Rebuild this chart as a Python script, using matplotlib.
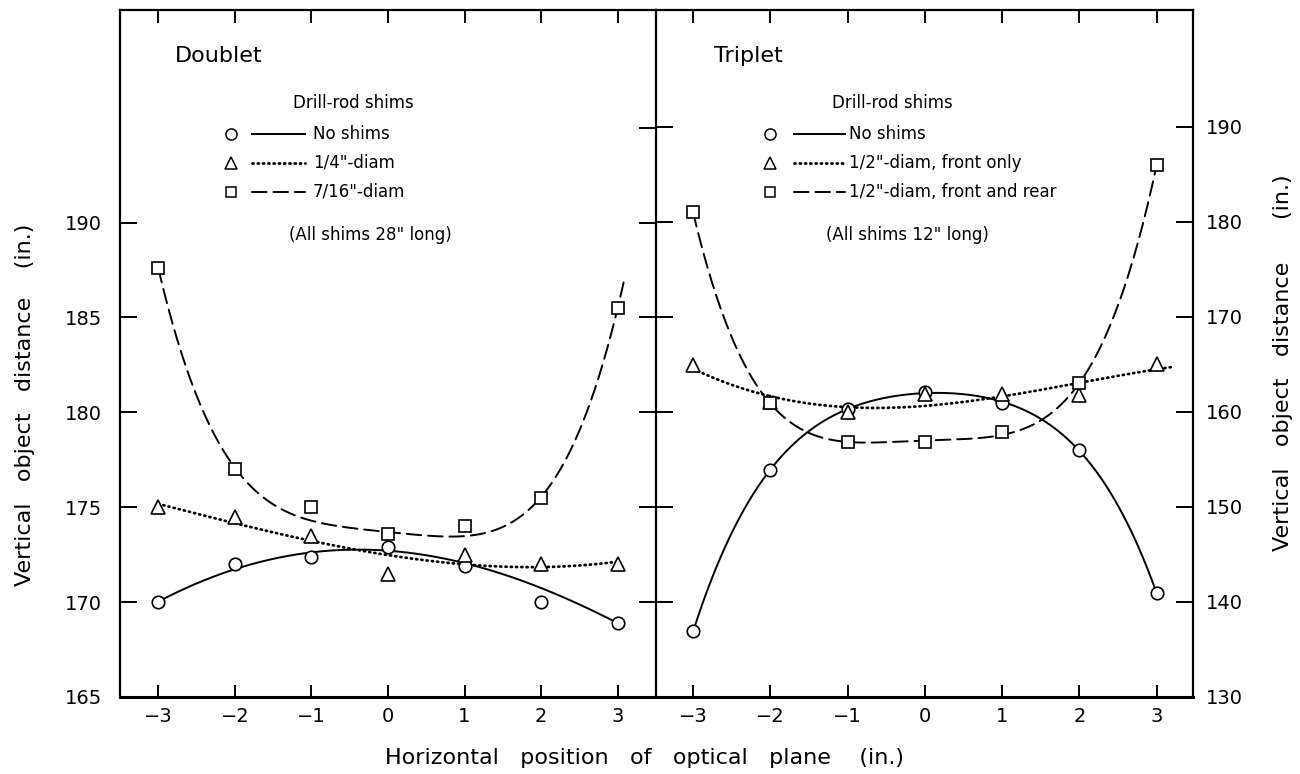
import numpy as np
import matplotlib
matplotlib.use("Agg")
import matplotlib.pyplot as plt
from matplotlib.lines import Line2D

plt.rcParams['font.family'] = ['DejaVu Sans']

x_pos = [-3, -2, -1, 0, 1, 2, 3]

# Doublet: vertical object distance (in.)
doublet_none = [170.0, 172.0, 172.4, 172.9, 171.9, 170.0, 168.9]
doublet_quarter = [175.0, 174.5, 173.5, 171.5, 172.5, 172.0, 172.0]
doublet_7_16 = [187.6, 177.0, 175.0, 173.6, 174.0, 175.5, 185.5]

# Triplet: vertical object distance (in.)
triplet_none = [136.9, 153.9, 160.3, 162.1, 160.9, 156.0, 140.9]
triplet_front = [164.9, 161.0, 160.0, 161.9, 161.9, 161.8, 165.0]
triplet_both = [181.0, 160.9, 156.8, 156.8, 157.9, 163.0, 186.0]

doublet_labels = ['No shims', '1/4"-diam', '7/16"-diam']
triplet_labels = ['No shims', '1/2"-diam, front only', '1/2"-diam, front and rear']

markers = ['o', '^', 's']
styles = ['-', (0, (0.4, 1.5)), (0, (7.5, 3.5))]
widths = [1.4, 2.0, 1.4]


def smooth(ax, xs, ys, deg, x0, x1, ls, lw, w=None):
    # least-squares polynomial through the measured points
    coef = np.polyfit(xs, ys, deg, w=w)
    xx = np.linspace(x0, x1, 300)
    ax.plot(xx, np.polyval(coef, xx), color='black', ls=ls, lw=lw,
            dash_capstyle='round', solid_capstyle='round', zorder=2)


def points(ax, xs, ys, marker):
    ms = 9 if marker == 'o' else 9.5 if marker == '^' else 8
    ax.plot(xs, ys, ls='none', marker=marker, ms=ms, mfc='white',
            mec='black', mew=1.2, zorder=3)


def key(ax, y, marker, ls, lw, label, x_mark, x_line, x_text):
    tr = ax.transAxes
    ms = 8 if marker == 'o' else 8.5 if marker == '^' else 7
    ax.add_line(Line2D([x_mark], [y], transform=tr, marker=marker, ms=ms,
                       mfc='white', mec='black', mew=1.1, ls='none'))
    ax.add_line(Line2D(x_line, [y, y], transform=tr, color='black', ls=ls,
                       lw=lw, dash_capstyle='round'))
    ax.text(x_text, y, label, transform=tr, fontsize=12, va='center', ha='left')


def style_axes(ax):
    ax.set_facecolor('none')
    for s in ax.spines.values():
        s.set_linewidth(1.6)
    ax.spines['bottom'].set_linewidth(2.2)
    ax.set_xticks(x_pos)
    ax.set_xticklabels([str(v) if v >= 0 else '\u2212' + str(-v) for v in x_pos])
    ax.tick_params(axis='x', which='major', direction='in', top=True,
                   length=9, width=1.4, labelsize=14, pad=7)


fig = plt.figure(figsize=(13, 7.74), dpi=100)
ax1 = fig.add_axes([0.0923, 0.0995, 0.4123, 0.8876])
ax2 = fig.add_axes([0.5046, 0.0995, 0.4131, 0.8876])

# Left panel: doublet
ax1.set_xlim(-3.5, 3.5)
ax1.set_ylim(165, 201.2)
style_axes(ax1)
ax1.spines['right'].set_visible(False)
ax1.set_yticks([165, 170, 175, 180, 185, 190])
ax1.set_yticks([195], minor=True)
ax1.tick_params(axis='y', which='major', direction='in', left=True, right=True,
                length=12, width=1.4, labelsize=14, pad=13)
ax1.tick_params(axis='y', which='minor', direction='in', left=False, right=True,
                length=12, width=1.4)

smooth(ax1, x_pos, doublet_none, 4, -3, 3, styles[0], widths[0],
       w=[3, 2, 3, 3, 2, 0.2, 3])
smooth(ax1, x_pos, doublet_quarter, 3, -3, 3, styles[1], widths[1])
smooth(ax1, x_pos, doublet_7_16, 4, -3, 3.08, styles[2], widths[2],
       w=[3, 2, 1, 3, 1, 2, 3])
for ys, m in zip([doublet_none, doublet_quarter, doublet_7_16], markers):
    points(ax1, x_pos, ys, m)

ax1.text(0.102, 0.933, 'Doublet', transform=ax1.transAxes, fontsize=16,
         va='center', ha='left')
ax1.text(0.322, 0.864, 'Drill-rod shims', transform=ax1.transAxes, fontsize=12,
         va='center', ha='left')
for i, (lab, m) in enumerate(zip(doublet_labels, markers)):
    key(ax1, 0.820 - i * 0.0422, m, styles[i], widths[i], lab,
        0.207, [0.246, 0.345], 0.360)
ax1.text(0.315, 0.672, '(All shims 28" long)', transform=ax1.transAxes,
         fontsize=12, va='center', ha='left')

# Right panel: triplet
ax2.set_xlim(-3.48, 3.47)
ax2.set_ylim(130, 202.3)
style_axes(ax2)
ax2.set_yticks([130, 140, 150, 160, 170, 180, 190])
ax2.tick_params(axis='y', which='major', direction='in', left=True, right=True,
                labelleft=False, labelright=True, length=12, width=1.4,
                labelsize=14, pad=9)

smooth(ax2, x_pos, triplet_none, 4, -3, 3, styles[0], widths[0])
smooth(ax2, x_pos, triplet_front, 3, -3, 3.19, styles[1], widths[1])
smooth(ax2, x_pos, triplet_both, 4, -3, 3, styles[2], widths[2],
       w=[3, 2, 1, 1, 1, 2, 3])
for ys, m in zip([triplet_none, triplet_front, triplet_both], markers):
    points(ax2, x_pos, ys, m)

ax2.text(0.108, 0.933, 'Triplet', transform=ax2.transAxes, fontsize=16,
         va='center', ha='left')
ax2.text(0.327, 0.865, 'Drill-rod shims', transform=ax2.transAxes, fontsize=12,
         va='center', ha='left')
for i, (lab, m) in enumerate(zip(triplet_labels, markers)):
    key(ax2, 0.820 - i * 0.0422, m, styles[i], widths[i], lab,
        0.212, [0.257, 0.352], 0.360)
ax2.text(0.316, 0.672, '(All shims 12" long)', transform=ax2.transAxes,
         fontsize=12, va='center', ha='left')

fig.text(0.019, 0.477, 'Vertical   object   distance    (in.)', rotation=90,
         fontsize=16, ha='center', va='center')
fig.text(0.987, 0.532, 'Vertical   object   distance      (in.)', rotation=90,
         fontsize=16, ha='center', va='center')
fig.text(0.496, 0.021, 'Horizontal   position   of   optical   plane    (in.)',
         fontsize=16, ha='center', va='center')

fig.savefig('out.png', dpi=100, facecolor='white')
